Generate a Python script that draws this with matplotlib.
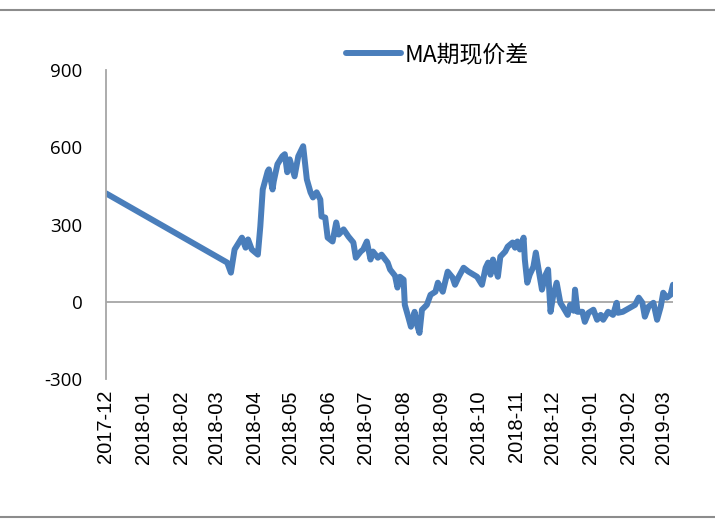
import matplotlib
matplotlib.use('Agg')
import matplotlib.pyplot as plt
import matplotlib.dates as mdates
from matplotlib.lines import Line2D
import pandas as pd

plt.rcParams['axes.unicode_minus'] = False

# MA 期现价差 (basis)
dates = [
    '2017-12-01', '2018-03-10', '2018-03-13', '2018-03-16', '2018-03-22', '2018-03-25',
    '2018-03-27', '2018-03-30', '2018-04-04', '2018-04-06', '2018-04-08', '2018-04-12',
    '2018-04-13', '2018-04-16', '2018-04-17', '2018-04-20', '2018-04-24', '2018-04-26',
    '2018-04-28', '2018-04-30', '2018-05-04', '2018-05-07', '2018-05-11', '2018-05-14',
    '2018-05-17', '2018-05-19', '2018-05-22', '2018-05-25', '2018-05-26', '2018-05-29',
    '2018-05-31', '2018-06-04', '2018-06-07', '2018-06-09', '2018-06-13', '2018-06-17',
    '2018-06-21', '2018-06-23', '2018-06-27', '2018-06-29', '2018-07-02', '2018-07-05',
    '2018-07-07', '2018-07-11', '2018-07-14', '2018-07-19', '2018-07-21', '2018-07-25',
    '2018-07-27', '2018-07-29', '2018-08-01', '2018-08-02', '2018-08-05', '2018-08-07',
    '2018-08-10', '2018-08-12', '2018-08-14', '2018-08-16', '2018-08-20', '2018-08-23',
    '2018-08-27', '2018-08-29', '2018-09-02', '2018-09-04', '2018-09-06', '2018-09-10',
    '2018-09-12', '2018-09-15', '2018-09-19', '2018-09-23', '2018-09-30', '2018-10-04',
    '2018-10-07', '2018-10-09', '2018-10-11', '2018-10-13', '2018-10-17', '2018-10-19',
    '2018-10-23', '2018-10-25', '2018-10-29', '2018-10-31', '2018-11-02', '2018-11-04',
    '2018-11-07', '2018-11-08', '2018-11-10', '2018-11-12', '2018-11-15', '2018-11-17',
    '2018-11-19', '2018-11-22', '2018-11-25', '2018-11-27', '2018-11-28', '2018-11-29',
    '2018-12-01', '2018-12-04', '2018-12-07', '2018-12-09', '2018-12-13', '2018-12-15',
    '2018-12-18', '2018-12-19', '2018-12-21', '2018-12-25', '2018-12-27', '2018-12-30',
    '2019-01-03', '2019-01-06', '2019-01-09', '2019-01-11', '2019-01-15', '2019-01-19',
    '2019-01-22', '2019-01-23', '2019-01-27', '2019-02-02', '2019-02-06', '2019-02-09',
    '2019-02-12', '2019-02-14', '2019-02-17', '2019-02-21', '2019-02-24', '2019-02-27',
    '2019-03-01', '2019-03-04', '2019-03-07', '2019-03-09',
]
basis = [
    421, 152, 113, 203, 249, 210,
    242, 203, 183, 292, 436, 506,
    514, 436, 468, 534, 565, 573,
    503, 553, 487, 565, 604, 475,
    425, 405, 425, 397, 331, 327,
    249, 234, 308, 261, 281, 253,
    230, 171, 195, 203, 234, 164,
    195, 171, 183, 152, 125, 101,
    55, 97, 86, -12, -62, -97,
    -39, -90, -121, -31, -12, 27,
    39, 74, 39, 78, 117, 94,
    66, 97, 132, 117, 97, 66,
    132, 152, 105, 164, 97, 175,
    195, 214, 230, 210, 234, 203,
    249, 164, 74, 105, 136, 191,
    132, 47, 105, 125, 39, -39,
    19, 74, -4, -19, -51, -12,
    -35, 47, -39, -39, -78, -43,
    -31, -70, -51, -70, -39, -51,
    -4, -43, -39, -23, -12, 16,
    -4, -58, -19, -4, -70, -19,
    35, 16, 27, 66,
]
series_name = 'MA期现价差'
tick_months = pd.date_range('2017-12-01', '2019-03-01', freq='MS')
y_ticks = [-300, 0, 300, 600, 900]

x = pd.to_datetime(dates)
line_color = '#4A7EBB'
grey = '#A6A6A6'

fig = plt.figure(figsize=(7.15, 5.19), dpi=100)
ax = fig.add_axes([106 / 715, 1 - 379 / 519, (673 - 106) / 715, (379 - 70) / 519])

ax.plot(x, basis, color=line_color, lw=4.3, solid_capstyle='round', solid_joinstyle='round')
ax.axhline(0, color=grey, lw=1.3, zorder=0)

ax.set_ylim(-300, 900)
ax.set_yticks(y_ticks)
ax.set_xlim(pd.Timestamp('2017-12-01'), x[-1])
ax.set_xticks(tick_months)
ax.xaxis.set_major_formatter(mdates.DateFormatter('%Y-%m'))

for s in ['top', 'right', 'bottom']:
    ax.spines[s].set_visible(False)
ax.spines['left'].set_color(grey)
ax.spines['left'].set_linewidth(1.3)

ax.tick_params(axis='x', length=0, pad=8, labelsize=14.5, rotation=90)
ax.tick_params(axis='y', length=0, pad=17, labelsize=13.5)
for lab in ax.get_xticklabels():
    lab.set_fontfamily('Liberation Sans')
for lab in ax.get_yticklabels():
    lab.set_fontfamily('Open Sans')

handle = Line2D([], [], color=line_color, lw=4.3, solid_capstyle='round')
fig.legend([handle], [series_name], loc='center', bbox_to_anchor=(437 / 715, 1 - 55 / 519),
           frameon=False, handlelength=2.4, handletextpad=0.15,
           prop={'family': ['Noto Sans CJK SC', 'DejaVu Sans'], 'size': 16.5})

# chart border (top and bottom only visible)
fig.add_artist(Line2D([0, 1], [1 - 10 / 519, 1 - 10 / 519], color='#8C8C8C', lw=1.5))
fig.add_artist(Line2D([0, 1], [1 - 517 / 519, 1 - 517 / 519], color='#8C8C8C', lw=1.5))

fig.savefig('out.png', dpi=100)
